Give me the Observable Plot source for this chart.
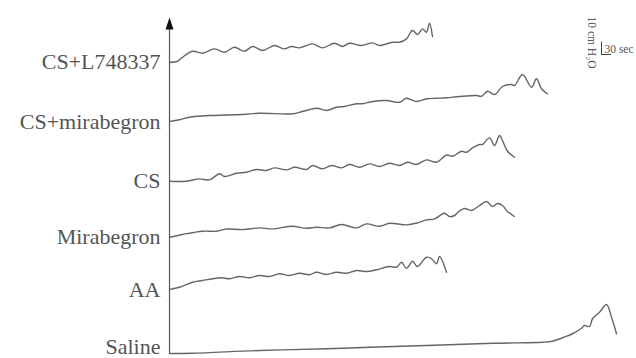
<!DOCTYPE html>
<html>
<head>
<meta charset="utf-8">
<script src="https://cdn.jsdelivr.net/npm/d3@7"></script>
<script src="https://cdn.jsdelivr.net/npm/@observablehq/plot@0.6"></script>
<style>
  html, body { margin: 0; padding: 0; background: #fff; }
  #chart svg { display: block; }
</style>
</head>
<body>
<div id="chart"></div>
<script>
// Trace labels (top to bottom) and stacking baselines (cm H2O)
const traceNames = ["CS+L748337", "CS+mirabegron", "CS", "Mirabegron", "AA", "Saline"];
const traceOffsets = [237, 189.6, 141.8, 97, 55.2, 4];

// Each trace: [time (sec), pressure above baseline (cm H2O)]
const csL748337 = [[0,0],[24,0.8],[39,4],[69,8.8],[99,7.2],[135,10.7],[165,8],[195,12],[225,8.8],[249,12.6],[279,9.4],[315,13.4],[345,10.7],[366,12.6],[390,11.5],[429,14.7],[459,11.5],[495,15.2],[519,12.6],[540,15.2],[576,13.4],[609,15.5],[630,13.4],[669,16],[690,16],[711,18.7],[729,25.4],[744,22.2],[759,26.7],[771,24],[780,31.2],[789,20.6]];
const csMirabegron = [[0,0],[30,1.4],[60,3.4],[120,4.8],[219,5.6],[270,6.6],[369,6.2],[399,8],[441,10.6],[471,8.8],[501,11.4],[525,12],[561,14.2],[579,14.2],[609,16],[651,16.8],[690,15.4],[711,18.6],[741,16],[771,18.2],[801,18.6],[831,19],[870,20],[921,20.8],[936,20.2],[954,24.2],[975,21.6],[999,28],[1026,29.6],[1035,28.8],[1059,37.6],[1086,27.4],[1101,34.2],[1116,26.2],[1134,22.2]];
const cs = [[0,0],[51,0],[90,1.9],[120,1.1],[150,6],[165,3.8],[201,6.4],[231,7.2],[261,9.4],[291,8.6],[315,10.7],[351,9.1],[375,11.2],[411,9.4],[429,12.6],[459,9.9],[486,12.6],[516,10.7],[540,13.4],[570,11.2],[600,13.9],[630,11.8],[660,14.4],[690,12.6],[714,15.2],[741,13.4],[771,17.1],[801,15.2],[831,21],[849,20],[876,24],[891,23.2],[909,26.7],[930,29.4],[939,29.4],[960,34.7],[975,28.6],[990,36.6],[999,32.6],[1014,24],[1035,19.2]];
const mirabegron = [[0,0],[39,2.2],[99,4.8],[141,4.8],[171,6.6],[219,6.1],[270,7.5],[309,6.7],[369,8.8],[411,7.2],[441,8],[480,7.5],[516,10.2],[561,7.5],[591,10.7],[630,8.8],[660,11.2],[711,9.9],[744,11.5],[771,13.9],[795,14.7],[825,19.2],[840,16.6],[855,17.4],[870,21],[885,23],[906,21.4],[930,25.4],[951,28.6],[969,24.6],[984,27],[999,25.4],[1014,20.6],[1035,16.6]];
const aa = [[0,0],[30,1.8],[69,5.8],[99,7.2],[129,8.6],[156,9.4],[180,8.6],[210,10.4],[240,9.4],[270,11.2],[300,10.4],[330,12.6],[360,11.2],[390,13],[420,11.8],[441,13.8],[471,12],[501,13.8],[531,13],[561,15.2],[591,14.4],[621,15.8],[660,18.4],[681,17.8],[696,21.8],[711,17],[729,22.6],[744,18.4],[771,25.8],[786,24.6],[801,20.6],[810,26.4],[831,13.8]];
const saline = [[0,0],[69,0.2],[270,2.4],[471,3.8],[600,5],[771,6.4],[969,8.2],[1119,9],[1149,9.8],[1179,12.6],[1209,15.8],[1236,20.2],[1245,22.4],[1260,21.6],[1269,27.8],[1290,33],[1311,39.2],[1326,29],[1341,15.8]];

const traceValues = [csL748337, csMirabegron, cs, mirabegron, aa, saline];

// Scale bar values
const scaleTime = 30;      // sec
const scalePressure = 10;  // cm H2O

// Build a long table for the line mark
const rows = [];
traceNames.forEach((name, i) => {
  traceValues[i].forEach(([t, p]) => rows.push({trace: name, time: t, level: traceOffsets[i] + p}));
});
const labels = traceNames.map((name, i) => ({trace: name, level: traceOffsets[i]}));
const lastIndex = labels.length - 1;

const serif = "'Liberation Serif', 'DejaVu Serif', serif";
const barT = 1296, barP = 243.2;

// elongated filled arrowhead
const arrowHead = {
  draw(ctx) {
    ctx.moveTo(0, -8);
    ctx.lineTo(4, 4);
    ctx.lineTo(-4, 4);
    ctx.closePath();
  }
};

const labelStyle = {x: 0, y: "level", text: "trace", textAnchor: "end", dx: -9, fontSize: 22, fill: "#555", fontFamily: serif};

const chart = Plot.plot({
  width: 636,
  height: 358,
  marginLeft: 169,
  marginRight: 0,
  marginTop: 0,
  marginBottom: 0,
  x: {domain: [0, 1401], axis: null},
  y: {domain: [0, 286.4], axis: null},
  style: {background: "#fff", fontFamily: serif},
  marks: [
    // vertical axis with arrow
    Plot.ruleX([0], {y1: 3.5, y2: 264, stroke: "#555", strokeWidth: 1.2}),
    Plot.dot([0], {x: d => d, y: 266.4, symbol: arrowHead, r: 4, fill: "#111", stroke: "none"}),
    // traces
    Plot.line(rows, {x: "time", y: "level", z: "trace", stroke: "#666", strokeWidth: 1.4, curve: "catmull-rom"}),
    // labels
    Plot.text(labels.slice(0, lastIndex), labelStyle),
    Plot.text(labels.slice(lastIndex), {...labelStyle, dy: -7}),
    // scale bar
    Plot.ruleX([barT], {y1: barP, y2: barP + scalePressure, stroke: "#444", strokeWidth: 1}),
    Plot.ruleY([barP], {x1: barT, x2: barT + scaleTime, stroke: "#444", strokeWidth: 1}),
    Plot.text([`${scaleTime} sec`], {x: barT, y: barP + 4.5, text: d => d, textAnchor: "start", dx: 3, fontSize: 11.5, fill: "#555", fontFamily: serif}),
    Plot.text([`${scalePressure} cm H₂O`], {x: barT - 30, y: barP + 9.6, text: d => d, rotate: 90, fontSize: 11.5, fill: "#555", fontFamily: serif})
  ]
});
document.getElementById("chart").appendChild(chart);
</script>
</body>
</html>
